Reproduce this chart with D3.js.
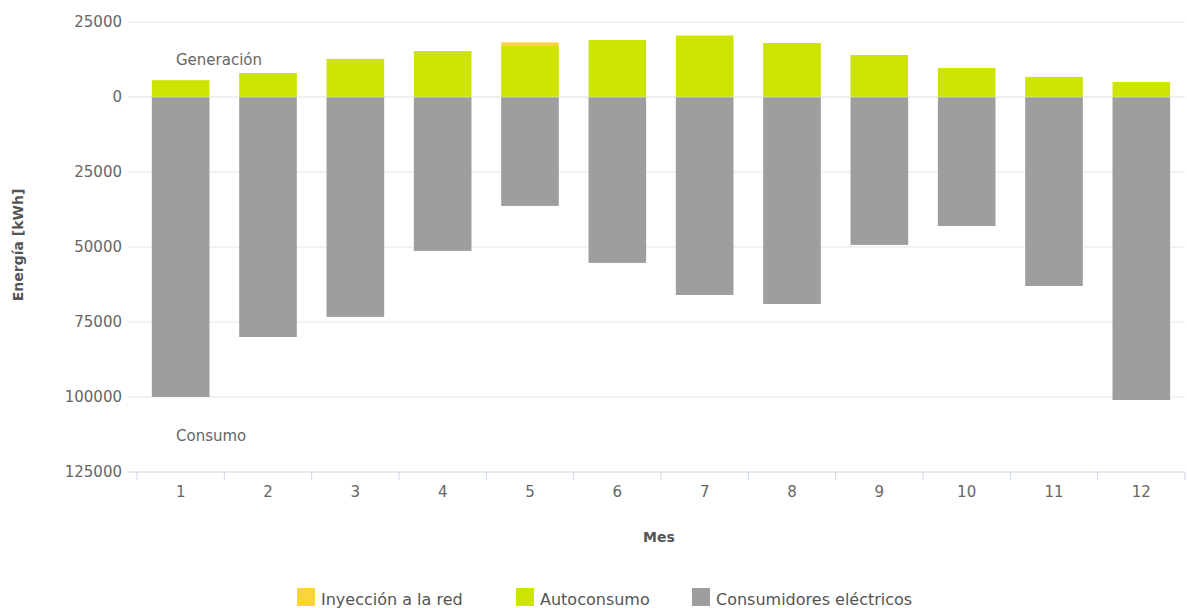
<!DOCTYPE html>
<html>
<head>
<meta charset="utf-8">
<script src="https://cdn.jsdelivr.net/npm/d3@7"></script>
<style>
  body { margin: 0; background: #fff; }
  text { font-family: "DejaVu Sans", Verdana, sans-serif; }
</style>
</head>
<body>
<svg></svg>
<script>
'use strict';

// months and series (kWh)
var months = ['1', '2', '3', '4', '5', '6', '7', '8', '9', '10', '11', '12'];
var inyeccion = [0, 0, 0, 0, 1200, 0, 0, 0, 0, 0, 0, 0];
var autoconsumo = [5600, 8000, 12700, 15300, 17000, 19000, 20500, 18000, 14000, 9700, 6700, 5000];
var consumidores = [100000, 80000, 73300, 51300, 36300, 55300, 66000, 69000, 49300, 43000, 63000, 101000];
var yTicks = [25000, 0, -25000, -50000, -75000, -100000, -125000];

var SVG_SIZE = {width: 1187, height: 608};
var MARGIN = {left: 137, right: 2, top: 22, bottom: 136};

var COLORS = {
  iny: '#f9d43a',
  auto: '#cde300',
  cons: '#9e9e9e'
};

var svg = d3.select('svg')
  .attr('width', SVG_SIZE.width).attr('height', SVG_SIZE.height);

var plotW = SVG_SIZE.width - MARGIN.left - MARGIN.right;
var plotH = SVG_SIZE.height - MARGIN.top - MARGIN.bottom;

var x = d3.scaleBand().domain(months).range([0, plotW]).paddingInner(0.34).paddingOuter(0.17);
var xBand = d3.scaleBand().domain(months).range([0, plotW]);
var y = d3.scaleLinear().domain([-125000, 25000]).range([plotH, 0]);

var plot = svg.append('g')
  .attr('transform', 'translate(' + MARGIN.left + ',' + MARGIN.top + ')');

// grid lines
plot.append('g').selectAll('line')
  .data(yTicks.slice(0, -1))
  .enter().append('line')
  .attr('x1', -9).attr('x2', plotW)
  .attr('y1', function(d) { return y(d); })
  .attr('y2', function(d) { return y(d); })
  .attr('stroke', '#e6e6e6').attr('stroke-width', 1);

// y axis labels (absolute values)
var yAxis = d3.axisLeft(y).tickValues(yTicks)
  .tickFormat(function(d) { return Math.abs(d); })
  .tickSize(0).tickPadding(15);
plot.append('g').call(yAxis)
  .call(function(g) { g.select('.domain').remove(); })
  .selectAll('text')
  .attr('fill', '#666').style('font-size', '15px');

// consumption bars (downwards)
plot.append('g').selectAll('rect')
  .data(consumidores)
  .enter().append('rect')
  .attr('x', function(d, i) { return x(months[i]); })
  .attr('width', x.bandwidth())
  .attr('y', y(0))
  .attr('height', function(d) { return y(-d) - y(0); })
  .attr('fill', COLORS.cons);

// autoconsumo bars
plot.append('g').selectAll('rect')
  .data(autoconsumo)
  .enter().append('rect')
  .attr('x', function(d, i) { return x(months[i]); })
  .attr('width', x.bandwidth())
  .attr('y', function(d) { return y(d); })
  .attr('height', function(d) { return y(0) - y(d); })
  .attr('fill', COLORS.auto);

// inyeccion stacked on top
plot.append('g').selectAll('rect')
  .data(inyeccion)
  .enter().append('rect')
  .attr('x', function(d, i) { return x(months[i]); })
  .attr('width', x.bandwidth())
  .attr('y', function(d, i) { return y(autoconsumo[i] + d); })
  .attr('height', function(d, i) { return y(autoconsumo[i]) - y(autoconsumo[i] + d); })
  .attr('fill', COLORS.iny);

// zero line over the bars
plot.append('line')
  .attr('x1', -9).attr('x2', plotW)
  .attr('y1', y(0)).attr('y2', y(0))
  .attr('stroke', '#e6e6e6').attr('stroke-opacity', 0.6);

// x axis
var xAxis = d3.axisBottom(xBand).tickSize(0).tickPadding(14);
var gx = plot.append('g')
  .attr('transform', 'translate(0,' + plotH + ')')
  .call(xAxis);
gx.select('.domain').attr('stroke', '#ccd6eb').attr('d', 'M-9,0H' + plotW);
gx.selectAll('text').attr('fill', '#666').style('font-size', '15px');
// tick marks between categories
gx.append('g').selectAll('line')
  .data(d3.range(months.length + 1))
  .enter().append('line')
  .attr('x1', function(i) { return i * xBand.bandwidth(); })
  .attr('x2', function(i) { return i * xBand.bandwidth(); })
  .attr('y1', 0).attr('y2', 8)
  .attr('stroke', '#ccd6eb');

// labels inside plot
plot.append('text').text('Generación')
  .attr('x', 39).attr('y', 43)
  .attr('fill', '#666').style('font-size', '15px');
plot.append('text').text('Consumo')
  .attr('x', 39).attr('y', 419)
  .attr('fill', '#666').style('font-size', '15px');

// axis titles
svg.append('text').text('Mes')
  .attr('x', MARGIN.left + plotW / 2 - 2).attr('y', 542)
  .attr('text-anchor', 'middle')
  .attr('fill', '#555').style('font-size', '14px').style('font-weight', 'bold');
svg.append('text').text('Energía [kWh]')
  .attr('transform', 'translate(23,' + 245 + ') rotate(-90)')
  .attr('text-anchor', 'middle')
  .attr('fill', '#555').style('font-size', '14px').style('font-weight', 'bold');

// legend
var legendItems = [
  {name: 'Inyección a la red', color: COLORS.iny, x: 297},
  {name: 'Autoconsumo', color: COLORS.auto, x: 516},
  {name: 'Consumidores eléctricos', color: COLORS.cons, x: 692}
];
var lg = svg.append('g').selectAll('g')
  .data(legendItems)
  .enter().append('g')
  .attr('transform', function(d) { return 'translate(' + d.x + ',588)'; });
lg.append('rect')
  .attr('width', 18).attr('height', 18)
  .attr('fill', function(d) { return d.color; });
lg.append('text').text(function(d) { return d.name; })
  .attr('x', 24).attr('y', 17)
  .attr('fill', '#555').style('font-size', '16px');
</script>
</body>
</html>
